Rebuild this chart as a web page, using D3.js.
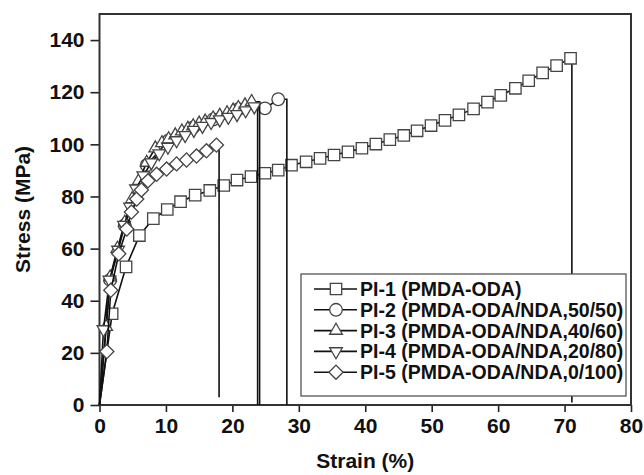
<!DOCTYPE html>
<html>
<head>
<meta charset="utf-8">
<script src="https://cdn.jsdelivr.net/npm/d3@7"></script>
<style>
  body { margin: 0; background: #fff; }
  svg { display: block; font-family: "Liberation Sans", Arial, sans-serif; font-weight: bold; }
</style>
</head>
<body>
<div class="chart_container"></div>
<script>
// series names (legend)
const seriesNames = [
  "PI-1 (PMDA-ODA)",
  "PI-2 (PMDA-ODA/NDA,50/50)",
  "PI-3 (PMDA-ODA/NDA,40/60)",
  "PI-4 (PMDA-ODA/NDA,20/80)",
  "PI-5 (PMDA-ODA/NDA,0/100)"
];

// PI-1 squares
const strainPI1 = [0, 1.9, 4.0, 6.0, 8.1, 10.2, 12.2, 14.4, 16.6, 18.7, 20.7, 22.8, 24.9, 26.9, 28.9, 31.1, 33.2,
  35.3, 37.4, 39.5, 41.6, 43.7, 45.8, 47.8, 49.9, 52.0, 54.1, 56.3, 58.4, 60.4, 62.6, 64.6, 66.7, 68.8, 70.9];
const stressPI1 = [0, 35, 53, 65, 71.5, 75, 78, 80.5, 82.3, 84.2, 86.3, 87.6, 88.9, 90.1, 92, 93.3, 94.6,
  95.9, 97.1, 98.5, 100.1, 101.8, 103.4, 105.2, 107.2, 109.2, 111.3, 113.6, 116.2, 118.8, 121.5, 124.4, 127.4, 130.2, 133];
// PI-2 circles
const strainPI2 = [0, 1.6, 3.8, 7.1, 10.4, 14.1, 17.1, 20.9, 24.9, 26.9];
const stressPI2 = [0, 48, 69, 92, 101.5, 106.5, 109.5, 113.5, 113.8, 117.3];
// PI-3 up triangles
const strainPI3 = [0, 1.0, 1.6, 2.7, 3.8, 4.9, 5.9, 7.1, 8.4, 9.4, 10.4, 11.4, 12.4, 13.3, 14.1, 15.0, 15.9,
  17.1, 18.1, 19.2, 20.1, 20.9, 21.9, 22.9];
const stressPI3 = [0, 30, 49, 60, 70, 79, 86, 93, 98.5, 100.5, 102, 103.5, 105, 106, 107, 108, 108.8,
  110, 111, 112, 113, 114, 115, 116.3];
// PI-4 down triangles
const strainPI4 = [0, 0.6, 1.5, 2.8, 3.7, 4.6, 5.5, 6.6, 7.8, 9.0, 10.3, 11.6, 12.9, 14.2, 15.5, 16.8, 18.1,
  19.4, 20.7, 22.0, 23.3];
const stressPI4 = [0, 29, 48, 59.5, 69, 76, 83, 88, 93, 96.5, 99, 101.5, 103.5, 105.5, 107, 108.5, 109.5,
  110.5, 111.5, 113, 114.5];
// PI-5 diamonds
const strainPI5 = [0, 1.1, 1.7, 2.9, 4.1, 4.8, 5.6, 6.3, 7.3, 8.6, 10.1, 11.6, 13.1, 14.6, 16.1, 17.6];
const stressPI5 = [0, 20.5, 44, 58, 67.5, 74, 79, 82.5, 86, 88.5, 90.5, 92.5, 94, 95.5, 97.5, 99.7];

// fracture: strain at break and stress where the drop line ends
const breakStrain = [71.1, 28.2, 24.1, 23.8, 18.0];
const breakStress = [1, 0, 0, 0, 3];

const xTicks = [0, 10, 20, 30, 40, 50, 60, 70, 80];
const yTicks = [0, 20, 40, 60, 80, 100, 120, 140];

const width = 644;
const height = 475;
const margin = { left: 99.5, right: 13, top: 14, bottom: 70 };

const svg = d3.select(".chart_container").append("svg")
  .attr("width", width).attr("height", height);

const x = d3.scaleLinear().domain([0, 80]).range([margin.left, width - margin.right]);
const y = d3.scaleLinear().domain([0, 150]).range([height - margin.bottom, margin.top]);

// axes
const xAxis = svg.append("g")
  .attr("transform", `translate(0,${y(0)})`)
  .call(d3.axisBottom(x).tickValues(xTicks).tickSize(7).tickSizeOuter(0).tickPadding(6));
const yAxis = svg.append("g")
  .attr("transform", `translate(${x(0)},0)`)
  .call(d3.axisLeft(y).tickValues(yTicks).tickSize(9).tickSizeOuter(0).tickPadding(6));
[xAxis, yAxis].forEach((g) => {
  g.select(".domain").remove();
  g.selectAll("line").attr("stroke", "#222").attr("stroke-width", 1.6);
  g.selectAll("text").attr("fill", "#111").style("font-size", "21px").style("font-weight", "bold")
    .style("font-family", "'Liberation Sans', Arial, sans-serif");
});

// frame
svg.append("rect")
  .attr("x", x(0)).attr("y", y(150))
  .attr("width", x(80) - x(0)).attr("height", y(0) - y(150))
  .attr("fill", "none").attr("stroke", "#333").attr("stroke-width", 2);

// axis titles
svg.append("text")
  .attr("x", (x(0) + x(80)) / 2).attr("y", 468)
  .attr("text-anchor", "middle").style("font-size", "21px").attr("fill", "#111")
  .text("Strain (%)");
svg.append("text")
  .attr("transform", `translate(30,${(y(0) + y(150)) / 2}) rotate(-90)`)
  .attr("text-anchor", "middle").style("font-size", "21px").attr("fill", "#111")
  .text("Stress (MPa)");

// markers
const symbolPaths = [
  d3.symbol().type(d3.symbolSquare).size(130)(),
  d3.symbol().type(d3.symbolCircle).size(125)(),
  d3.symbol().type(d3.symbolTriangle).size(70)(),
  d3.symbol().type(d3.symbolTriangle).size(70)(),
  d3.symbol().type(d3.symbolSquare).size(100)()
];
const symbolRotate = [0, 0, 0, 180, 45];

const allStrain = [strainPI1, strainPI2, strainPI3, strainPI4, strainPI5];
const allStress = [stressPI1, stressPI2, stressPI3, stressPI4, stressPI5];

const line = d3.line().x((d) => x(d[0])).y((d) => y(d[1]));

allStrain.forEach((strain, s) => {
  const pts = strain.map((v, i) => [v, allStress[s][i]]);
  const last = pts[pts.length - 1];
  const full = pts.concat([[breakStrain[s], last[1]], [breakStrain[s], breakStress[s]]]);
  svg.append("path")
    .attr("d", line(full))
    .attr("fill", "none").attr("stroke", "#111").attr("stroke-width", 1.6);
  svg.append("g").selectAll("path")
    .data(pts.slice(1))
    .enter()
    .append("path")
    .attr("d", symbolPaths[s])
    .attr("transform", (d) => `translate(${x(d[0])},${y(d[1])}) rotate(${symbolRotate[s]})`)
    .attr("fill", "#fff").attr("stroke", "#444").attr("stroke-width", 1.3);
});

// legend
const legend = svg.append("g");
legend.append("rect")
  .attr("x", 301).attr("y", 274).attr("width", 325).attr("height", 122)
  .attr("fill", "#fff").attr("stroke", "#555").attr("stroke-width", 1.3);
seriesNames.forEach((name, i) => {
  const ly = 289 + i * 20.8;
  legend.append("line").attr("x1", 314).attr("x2", 357).attr("y1", ly).attr("y2", ly)
    .attr("stroke", "#111").attr("stroke-width", 1.6);
  legend.append("path").attr("d", symbolPaths[i])
    .attr("transform", `translate(336,${ly}) rotate(${symbolRotate[i]})`)
    .attr("fill", "#fff").attr("stroke", "#444").attr("stroke-width", 1.3);
  legend.append("text").attr("x", 360).attr("y", ly + 7)
    .style("font-size", "19.5px").attr("fill", "#111").text(name);
});
</script>
</body>
</html>
